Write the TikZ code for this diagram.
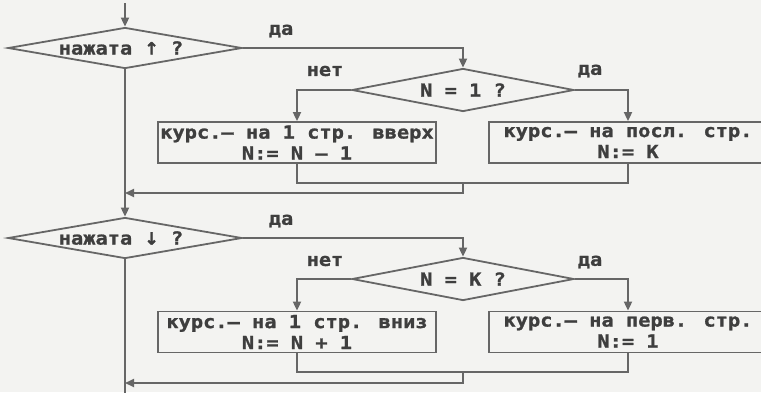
\documentclass[tikz,border=0pt]{standalone}
\usepackage{fontspec}
\newfontfamily\pix[FakeStretch=1.13,FakeBold=1.2]{DejaVu Sans Mono Bold}
\newfontfamily\arw[FakeBold=1.5]{DejaVu Sans Bold}
\usetikzlibrary{shapes.geometric,arrows.meta}
\definecolor{bgc}{HTML}{F3F3F1}
\definecolor{linec}{HTML}{666666}
\definecolor{textc}{HTML}{3E3E3E}
\begin{document}
\begin{tikzpicture}[x=1pt,y=-1pt,
  font=\pix\fontsize{18}{21}\selectfont,
  every node/.style={text=textc},
  flow/.style={draw=linec,line width=1.8pt},
  arr/.style={flow,-{Triangle[length=9pt,width=8pt]}},
  dia/.style={diamond,draw=linec,line width=1.8pt,inner sep=0pt},
  bx/.style={rectangle,draw=linec,line width=1.8pt,minimum width=278pt,minimum height=41pt,inner sep=0pt,align=center},
  lbl/.style={inner sep=0pt}]
\fill[bgc] (0,0) rectangle (761,392);
\useasboundingbox (0,0) rectangle (761,392);
\begin{scope}
\clip (0,0) rectangle (761,392);
% ---------- upper part ----------
\coordinate (top) at (125,3);
\node[dia,minimum width=234pt,minimum height=41pt] (d1) at (125,48) {};
\node[lbl] (t1) at (121,48) {нажата {\arw\fontsize{17}{20}\selectfont ↑} ?};
\node[dia,minimum width=222pt,minimum height=43pt] (d2) at (463,90) {};
\node[lbl] (t2) at (d2) {N = 1 ?};
\node[bx] (b1) at (297,142.5) {курс.– на 1 стр. вверх\\N:= N – 1};
\node[bx] (b2) at (628,142.5) {курс.– на посл. стр.\\N:= K};
\coordinate (j1) at (463,183);
\coordinate (k1) at (463,193);
\node[lbl] (l1) at (281,31) {да};
\node[lbl] (l2) at (325,71) {нет};
\node[lbl] (l3) at (590,71) {да};
% ---------- lower part ----------
\node[dia,minimum width=234pt,minimum height=41pt] (d3) at (125,238) {};
\node[lbl] (t3) at (121,238) {нажата {\arw\fontsize{17}{20}\selectfont ↓} ?};
\node[dia,minimum width=222pt,minimum height=43pt] (d4) at (463,279) {};
\node[lbl] (t4) at (d4) {N = K ?};
\node[bx] (b3) at (297,332) {курс.– на 1 стр. вниз\\N:= N + 1};
\node[bx] (b4) at (628,332) {курс.– на перв. стр.\\N:= 1};
\coordinate (j2) at (463,372);
\coordinate (k2) at (463,383);
\coordinate (bot) at (125,395);
\node[lbl] (l4) at (281,221) {да};
\node[lbl] (l5) at (325,261) {нет};
\node[lbl] (l6) at (590,262) {да};
% ---------- connectors ----------
\draw[arr] (top) -- (d1.north);
\draw[arr] (d1.east) -| (d2.north);
\draw[arr] (d2.west) -| (b1.north);
\draw[arr] (d2.east) -| (b2.north);
\draw[flow] (b1.south) |- (j1);
\draw[flow] (b2.south) |- (j1);
\draw[arr] (j1) -- (k1) -- (k1 -| d1.south);
\draw[arr] (d1.south) -- (d3.north);
\draw[arr] (d3.east) -| (d4.north);
\draw[arr] (d4.west) -| (b3.north);
\draw[arr] (d4.east) -| (b4.north);
\draw[flow] (b3.south) |- (j2);
\draw[flow] (b4.south) |- (j2);
\draw[arr] (j2) -- (k2) -- (k2 -| d3.south);
\draw[flow] (d3.south) -- (bot);
\end{scope}
\end{tikzpicture}
\end{document}
